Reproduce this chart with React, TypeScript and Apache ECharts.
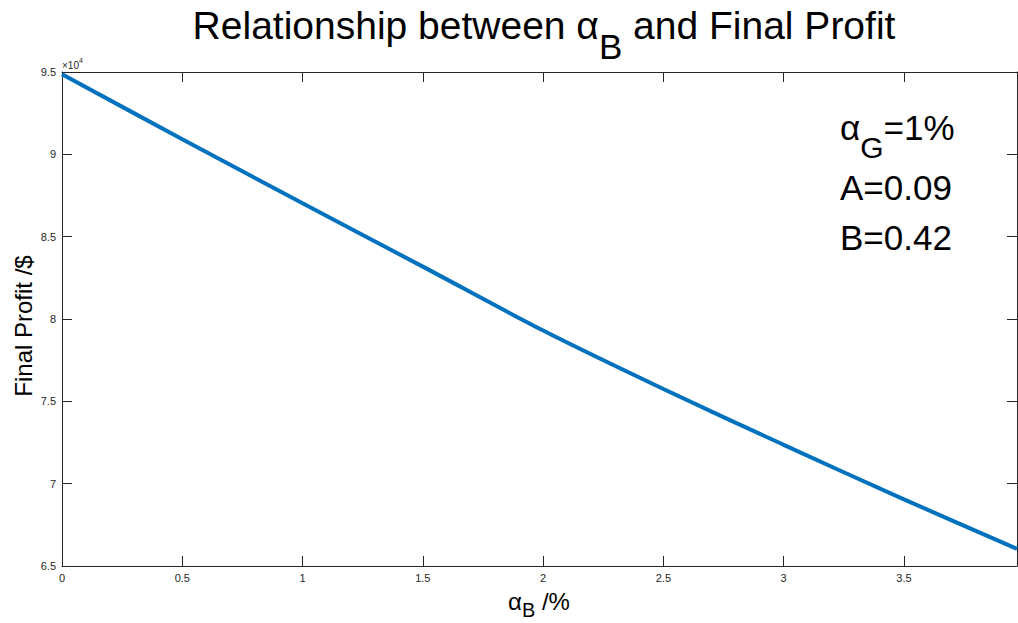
import React, { useEffect, useRef } from "react";
import * as echarts from "echarts";

const ALPHA_B = [0, 0.5, 1, 1.5, 2, 2.5, 3, 3.5, 3.97];
const FINAL_PROFIT = [94860, 90920, 87030, 83180, 79300, 75750, 72360, 69050, 66040];
const X_TICKS = [0, 0.5, 1, 1.5, 2, 2.5, 3, 3.5];
const Y_TICKS = [65000, 70000, 75000, 80000, 85000, 90000, 95000];
const TITLE_PARTS = ["Relationship between α", "B", " and Final Profit"];
const XLABEL_PARTS = ["α", "B", " /%"];
const YLABEL = "Final Profit /$";
const NOTE_ALPHA_G = ["α", "G", "=1%"];
const NOTES = ["A=0.09", "B=0.42"];
const EXPONENT = ["×10", "4"];

const FONT = "'Liberation Sans', Arial, Helvetica, sans-serif";
const AXIS_COLOR = "#262626";

let measureCtx: CanvasRenderingContext2D | null = null;
function textWidth(text: string, size: number): number {
  if (!measureCtx) measureCtx = document.createElement("canvas").getContext("2d");
  if (!measureCtx) return text.length * size * 0.55;
  measureCtx.font = `${size}px ${FONT}`;
  return measureCtx.measureText(text).width;
}

function txt(text: string, x: number, y: number, size: number, fill = "#000") {
  return {
    type: "text",
    x,
    y,
    style: { text, align: "left", verticalAlign: "middle", fontSize: size, fontFamily: FONT, fill },
  };
}

// main / subscript / main sequence laid out left-to-right
function subscripted(parts: string[], x0: number, yMain: number, ySub: number, sMain: number, sSub: number, fill = "#000") {
  const w0 = textWidth(parts[0], sMain);
  const w1 = textWidth(parts[1], sSub);
  return [
    txt(parts[0], x0, yMain, sMain, fill),
    txt(parts[1], x0 + w0, ySub, sSub, fill),
    txt(parts[2], x0 + w0 + w1, yMain, sMain, fill),
  ];
}

export default function App() {
  const ref = useRef<HTMLDivElement>(null);

  useEffect(() => {
    document.body.style.margin = "0";
    if (!ref.current) return;
    const chart = echarts.init(ref.current, undefined, { renderer: "svg" });

    const axisLine = { show: true, onZero: false, lineStyle: { color: AXIS_COLOR, width: 1 } };
    const tickStyle = { color: AXIS_COLOR, width: 1 };

    const titleSize = 39;
    const titleSub = 35;
    const titleW =
      textWidth(TITLE_PARTS[0], titleSize) + textWidth(TITLE_PARTS[1], titleSub) + textWidth(TITLE_PARTS[2], titleSize);
    const titleX = 544 - titleW / 2;

    const xlSize = 24;
    const xlSub = 20;
    const xlW = textWidth(XLABEL_PARTS[0], xlSize) + textWidth(XLABEL_PARTS[1], xlSub) + textWidth(XLABEL_PARTS[2], xlSize);
    const xlX = 539 - xlW / 2;

    chart.setOption({
      animation: false,
      backgroundColor: "#ffffff",
      grid: { left: 62, right: 1, top: 72, bottom: 57, containLabel: false },
      xAxis: [
        {
          type: "value",
          min: 0,
          max: 3.97,
          interval: 0.5,
          position: "bottom",
          axisLine,
          axisTick: { show: true, inside: true, length: 10, customValues: X_TICKS, lineStyle: tickStyle },
          axisLabel: {
            customValues: X_TICKS,
            formatter: (v: number) => String(v),
            color: AXIS_COLOR,
            fontSize: 11,
            fontFamily: FONT,
            margin: 6,
          },
          splitLine: { show: false },
        },
        {
          type: "value",
          min: 0,
          max: 3.97,
          interval: 0.5,
          position: "top",
          axisLine,
          axisTick: { show: true, inside: true, length: 10, customValues: X_TICKS, lineStyle: tickStyle },
          axisLabel: { show: false },
          splitLine: { show: false },
        },
      ],
      yAxis: [
        {
          type: "value",
          min: 65000,
          max: 95000,
          interval: 5000,
          position: "left",
          axisLine,
          axisTick: { show: true, inside: true, length: 10, customValues: Y_TICKS, lineStyle: tickStyle },
          axisLabel: {
            customValues: Y_TICKS,
            formatter: (v: number) => String(v / 10000),
            color: AXIS_COLOR,
            fontSize: 11,
            fontFamily: FONT,
            margin: 6,
          },
          splitLine: { show: false },
        },
        {
          type: "value",
          min: 65000,
          max: 95000,
          interval: 5000,
          position: "right",
          axisLine,
          axisTick: { show: true, inside: true, length: 10, customValues: Y_TICKS, lineStyle: tickStyle },
          axisLabel: { show: false },
          splitLine: { show: false },
        },
      ],
      series: [
        {
          type: "line",
          xAxisIndex: 0,
          yAxisIndex: 0,
          data: ALPHA_B.map((x, i) => [x, FINAL_PROFIT[i]]),
          showSymbol: false,
          smooth: 0.3,
          lineStyle: { color: "#0072BD", width: 4 },
          itemStyle: { color: "#0072BD" },
        },
      ],
      graphic: [
        ...subscripted(TITLE_PARTS, titleX, 25, 46, titleSize, titleSub),
        txt(EXPONENT[0], 62, 65, 10, AXIS_COLOR),
        txt(EXPONENT[1], 62 + textWidth(EXPONENT[0], 10), 60, 7, AXIS_COLOR),
        ...subscripted(XLABEL_PARTS, xlX, 601, 610, xlSize, xlSub),
        {
          type: "text",
          x: 23,
          y: 326,
          rotation: Math.PI / 2,
          style: {
            text: YLABEL,
            align: "center",
            verticalAlign: "middle",
            fontSize: 24,
            fontFamily: FONT,
            fill: "#000",
          },
        },
        ...subscripted(NOTE_ALPHA_G, 840, 127, 147, 35, 30),
        txt(NOTES[0], 840, 187, 35),
        txt(NOTES[1], 840, 237, 35),
      ],
    });

    return () => chart.dispose();
  }, []);

  return <div ref={ref} style={{ width: 1018, height: 623 }} />;
}
